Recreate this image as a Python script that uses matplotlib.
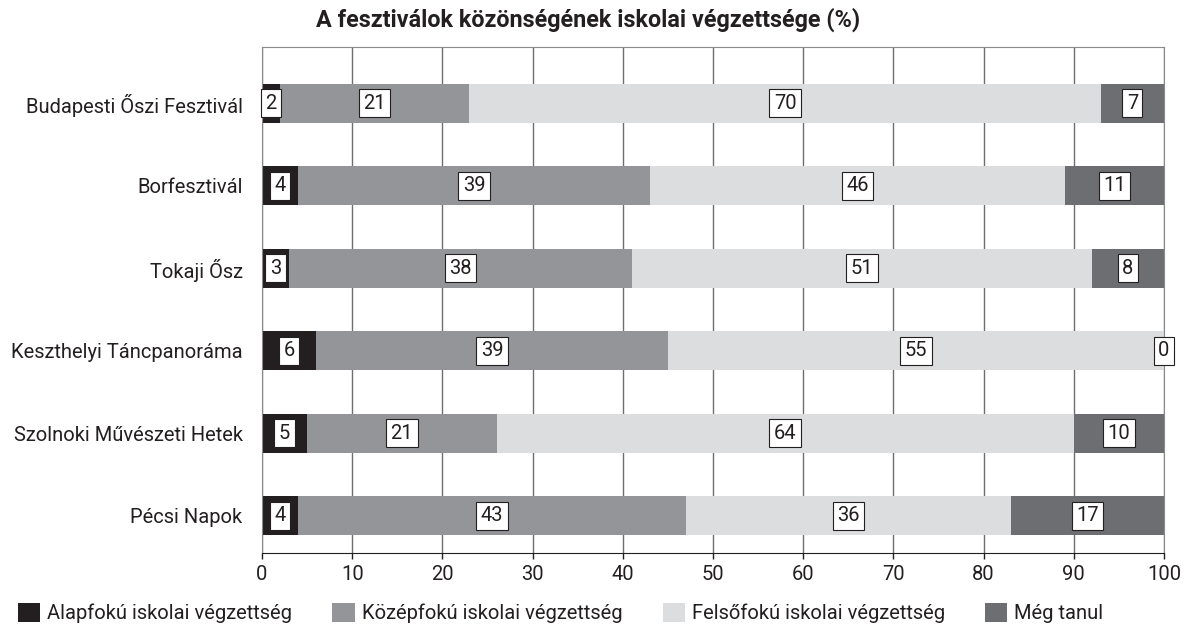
import numpy as np
import matplotlib.pyplot as plt

plt.rcParams['font.family'] = ['Roboto', 'DejaVu Sans']

# Data
festivals = ["Budapesti Őszi Fesztivál", "Borfesztivál", "Tokaji Ősz",
             "Keszthelyi Táncpanoráma", "Szolnoki Művészeti Hetek", "Pécsi Napok"]
alapfoku = [2, 4, 3, 6, 5, 4]
kozepfoku = [21, 39, 38, 39, 21, 43]
felsofoku = [70, 46, 51, 55, 64, 36]
meg_tanul = [7, 11, 8, 0, 10, 17]

series = [
    ("Alapfokú iskolai végzettség", alapfoku, "#231f20"),
    ("Középfokú iskolai végzettség", kozepfoku, "#939598"),
    ("Felsőfokú iskolai végzettség", felsofoku, "#dcddde"),
    ("Még tanul", meg_tanul, "#6d6e71"),
]

FS = 14.5
ink = "#231f20"

fig = plt.figure(figsize=(11.88, 6.26), dpi=100)
ax = fig.add_axes([262 / 1188, 1 - 553 / 626, 902 / 1188, 506 / 626])

y = np.arange(len(festivals))
left = np.zeros(len(festivals))
for name, vals, color in series:
    vals = np.array(vals, dtype=float)
    ax.barh(y, vals, left=left, height=0.47, color=color, label=name, zorder=2)
    for yi, l, v in zip(y, left, vals):
        ax.text(l + v / 2, yi, f"{int(v)}", ha="center", va="center",
                fontsize=FS, color=ink, zorder=4, clip_on=False,
                bbox=dict(boxstyle="square,pad=0.22", fc="white", ec=ink, lw=0.8))
    left += vals

ax.set_xlim(0, 100)
ax.set_ylim(5.45, -0.68)
ax.set_xticks(range(0, 101, 10))
ax.set_yticks(y)
ax.set_yticklabels(festivals)
ax.tick_params(axis="y", length=0, pad=14, labelsize=FS, labelcolor=ink)
ax.tick_params(axis="x", length=4, width=1, color=ink, labelsize=FS,
               labelcolor=ink, pad=5)
ax.grid(axis="x", color="#6d6e71", lw=1, zorder=1)
for s in ["top", "left", "right"]:
    ax.spines[s].set_color("#8a8a8a")
ax.spines["bottom"].set_color(ink)

fig.text(316 / 1188, 1 - 20 / 626, "A fesztiválok közönségének iskolai végzettsége (%)",
         ha="left", va="center", fontsize=16.8, fontweight="bold", color=ink)

fig.legend(loc="center left", bbox_to_anchor=(18 / 1188, 1 - 613 / 626), ncol=4,
           frameon=False, fontsize=FS, handlelength=1.1, handleheight=1.1,
           handletextpad=0.35, columnspacing=2.0, borderpad=0, borderaxespad=0,
           labelcolor=ink)

fig.savefig("out.png", dpi=100)
